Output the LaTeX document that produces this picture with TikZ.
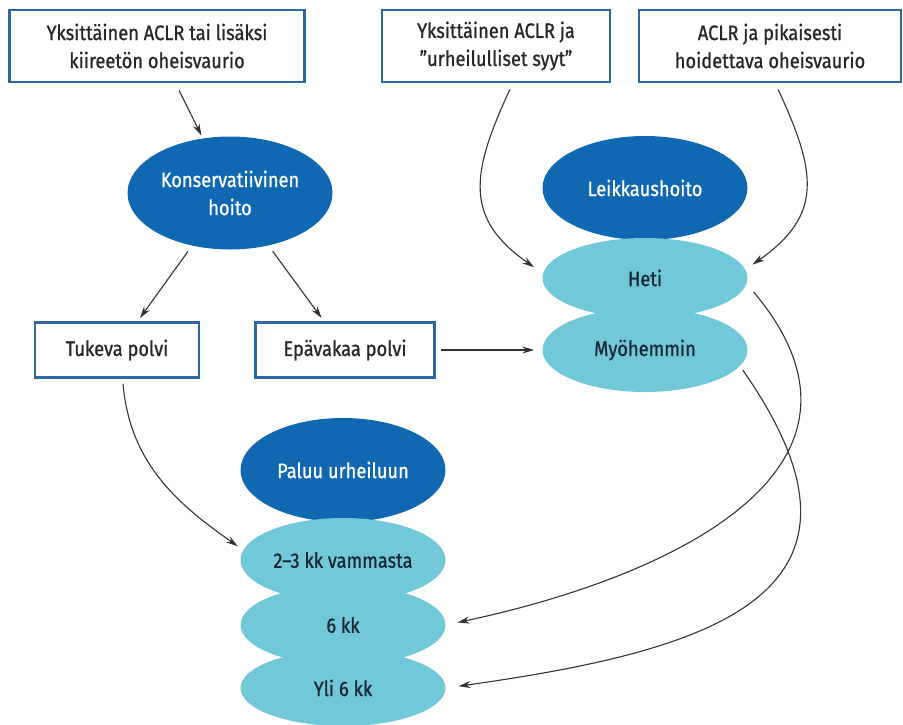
\documentclass[tikz,border=0pt]{standalone}
\usepackage{fontspec}
\setmainfont{Fira Sans}[FakeStretch=0.87,FakeBold=0.8]
\usetikzlibrary{shapes.geometric,arrows.meta}
\definecolor{boxblue}{RGB}{45,105,160}
\definecolor{darkoval}{RGB}{16,104,178}
\definecolor{lightoval}{RGB}{112,200,216}
\definecolor{ovaltext}{RGB}{25,38,52}

\begin{document}
\begin{tikzpicture}[x=1pt,y=-1pt,
		box/.style={draw=boxblue,line width=2.5pt,fill=white,align=center,inner sep=0pt,
			text=black!85,font=\fontsize{21}{28}\selectfont},
		darkell/.style={ellipse,fill=darkoval,text=white,align=center,inner sep=0pt,
			minimum width=205pt,font=\fontsize{21}{28}\selectfont},
		lightell/.style={ellipse,fill=lightoval,text=ovaltext,inner sep=0pt,
			minimum width=205pt,font=\fontsize{21}{28}\selectfont},
		arr/.style={-{Stealth[length=12pt,width=7pt]},line width=1.1pt,black!80}]
		\useasboundingbox (0,0) rectangle (903,724);
		\node[box,minimum width=295pt,minimum height=72pt] (yksi) at (157,46) {Yksittäinen ACLR tai lisäksi\\kiireetön oheisvaurio};
		\node[box,minimum width=228pt,minimum height=72pt] (urheilu) at (496,46) {Yksittäinen ACLR ja\\”urheilulliset syyt”};
		\node[box,minimum width=262pt,minimum height=72pt] (pikai) at (770,46) {ACLR ja pikaisesti\\hoidettava oheisvaurio};
		\node[box,minimum width=164pt,minimum height=55pt] (tukeva) at (117,350) {Tukeva polvi};
		\node[box,minimum width=179pt,minimum height=55pt] (epav) at (345,350) {Epävakaa polvi};

		\node[darkell,minimum height=113pt] (kons) at (230,193) {Konservatiivinen\\hoito};
		\node[darkell,minimum height=104pt] (leik) at (645,188) {Leikkaushoito};
		\node[darkell,minimum height=104pt] (paluu) at (343,470) {Paluu urheiluun};

		\node[lightell,minimum height=80pt] (heti) at (645,278) {Heti};
		\node[lightell,minimum height=84pt] (myoh) at (645,350) {Myöhemmin};
		\node[lightell,minimum height=84pt] (kk23) at (343,560) {2–3 kk vammasta};
		\node[lightell,minimum height=80pt] (kk6) at (343,625) {6 kk};
		\node[lightell,minimum height=76pt] (yli6) at (343,688) {Yli 6 kk};

		\draw[arr,shorten <=8pt,shorten >=3pt] (yksi) -- (kons);
		\draw[arr,shorten <=7pt,shorten >=4pt] (kons) -- (tukeva);
		\draw[arr,shorten <=7pt,shorten >=4pt] (kons) -- (epav);
		\draw[arr,shorten <=5pt,shorten >=8pt] (epav.east) -- (myoh.west);
		\draw[arr,shorten >=10pt] ([shift={(14pt,-6pt)}]urheilu.south) to[out=-115,in=145,looseness=1.3] ([yshift=5pt]heti.west);
		\draw[arr,shorten >=6pt] ([shift={(8pt,-6pt)}]pikai.south) to[out=-65,in=35,looseness=1.3] ([yshift=10pt]heti.east);
		\draw[arr,shorten >=3pt] ([shift={(6pt,-5pt)}]tukeva.south) to[out=-85,in=145] ([yshift=12pt]kk23.west);
		\draw[arr,shorten >=12pt] ([shift={(6pt,-14pt)}]heti.east) to[out=-50,in=12,looseness=1.3] (kk6.east);
		\draw[arr,shorten >=13pt] ([shift={(-5pt,-20pt)}]myoh.east) to[out=-55,in=8,looseness=1.6] (yli6.east);
	\end{tikzpicture}
\end{document}
